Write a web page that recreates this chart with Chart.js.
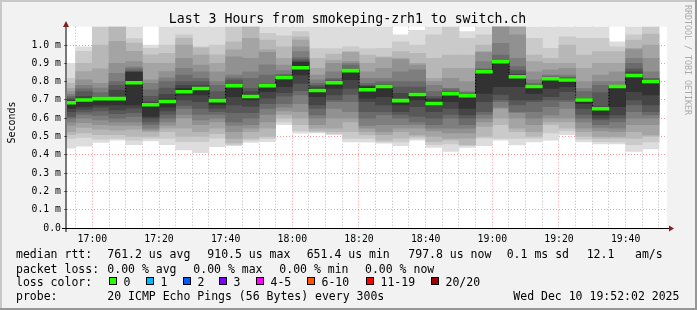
<!DOCTYPE html>
<html>
<head>
<meta charset="utf-8">
<script src="https://cdn.jsdelivr.net/npm/chart.js@4/dist/chart.umd.min.js"></script>
<style>
  html, body { margin: 0; padding: 0; background: #f2f2f2; }
  canvas { display: block; }
</style>
</head>
<body>
<canvas id="chart" width="697" height="310"></canvas>
<script>
const title = 'Last 3 Hours from smokeping-zrh1 to switch.ch';

// start of each 5 minute step
const barStarts = [
  '16:50', '16:55', '17:00', '17:05', '17:10', '17:15', '17:20', '17:25', '17:30',
  '17:35', '17:40', '17:45', '17:50', '17:55', '18:00', '18:05', '18:10', '18:15',
  '18:20', '18:25', '18:30', '18:35', '18:40', '18:45', '18:50', '18:55', '19:00',
  '19:05', '19:10', '19:15', '19:20', '19:25', '19:30', '19:35', '19:40', '19:45'
];

// 20 sorted ping times per step, in ms
const pings = [
  [0.436, 0.49, 0.51, 0.527, 0.56, 0.58, 0.60, 0.61, 0.636, 0.654, 0.695, 0.70, 0.71, 0.72, 0.73, 0.745, 0.763, 0.79, 0.818, 0.90],
  [0.447, 0.495, 0.52, 0.55, 0.575, 0.60, 0.62, 0.635, 0.65, 0.665, 0.70, 0.72, 0.745, 0.76, 0.78, 0.81, 0.855, 0.90, 0.965, 0.99],
  [0.467, 0.485, 0.51, 0.54, 0.565, 0.59, 0.615, 0.64, 0.66, 0.672, 0.705, 0.71, 0.72, 0.74, 0.765, 0.79, 0.87, 1.0, 1.2, 1.3],
  [0.48, 0.49, 0.51, 0.535, 0.56, 0.58, 0.60, 0.625, 0.645, 0.672, 0.705, 0.754, 0.78, 0.80, 0.845, 0.90, 1.02, 1.15, 1.2, 1.25],
  [0.455, 0.48, 0.50, 0.54, 0.56, 0.58, 0.61, 0.63, 0.655, 0.672, 0.85, 0.853, 0.857, 0.87, 0.88, 0.91, 0.965, 1.01, 1.035, 1.2],
  [0.476, 0.49, 0.50, 0.527, 0.535, 0.545, 0.565, 0.58, 0.60, 0.61, 0.675, 0.69, 0.72, 0.755, 0.79, 0.81, 0.90, 0.946, 0.982, 1.0],
  [0.455, 0.49, 0.527, 0.545, 0.56, 0.58, 0.60, 0.62, 0.64, 0.66, 0.705, 0.73, 0.765, 0.80, 0.82, 0.855, 0.90, 0.955, 1.0, 1.15],
  [0.427, 0.472, 0.50, 0.545, 0.60, 0.62, 0.654, 0.67, 0.70, 0.727, 0.763, 0.78, 0.80, 0.836, 0.873, 0.927, 1.0, 1.036, 1.055, 1.15],
  [0.412, 0.472, 0.50, 0.527, 0.564, 0.59, 0.62, 0.654, 0.69, 0.727, 0.763, 0.78, 0.80, 0.818, 0.854, 0.89, 0.945, 0.985, 0.99, 1.15],
  [0.445, 0.491, 0.515, 0.545, 0.58, 0.60, 0.62, 0.636, 0.654, 0.672, 0.70, 0.709, 0.745, 0.78, 0.80, 0.854, 0.90, 0.946, 1.0, 1.15],
  [0.45, 0.455, 0.465, 0.49, 0.527, 0.56, 0.58, 0.63, 0.672, 0.718, 0.782, 0.79, 0.81, 0.82, 0.836, 0.936, 0.973, 1.018, 1.2, 1.3],
  [0.467, 0.48, 0.49, 0.527, 0.545, 0.565, 0.60, 0.63, 0.665, 0.70, 0.727, 0.745, 0.763, 0.818, 0.854, 0.927, 1.036, 1.15, 1.2, 1.3],
  [0.472, 0.49, 0.50, 0.545, 0.58, 0.62, 0.654, 0.68, 0.709, 0.745, 0.782, 0.786, 0.79, 0.836, 0.891, 0.96, 0.973, 1.027, 1.064, 1.2],
  [0.564, 0.58, 0.60, 0.62, 0.64, 0.66, 0.68, 0.72, 0.74, 0.772, 0.825, 0.83, 0.836, 0.84, 0.86, 0.89, 0.927, 0.99, 1.05, 1.2],
  [0.518, 0.53, 0.564, 0.60, 0.636, 0.68, 0.727, 0.75, 0.79, 0.836, 0.905, 0.91, 0.92, 0.93, 0.964, 0.99, 1.027, 1.045, 1.073, 1.2],
  [0.52, 0.525, 0.53, 0.545, 0.564, 0.60, 0.618, 0.654, 0.672, 0.718, 0.763, 0.77, 0.78, 0.79, 0.81, 0.836, 0.873, 0.927, 0.98, 1.15],
  [0.51, 0.515, 0.527, 0.545, 0.60, 0.654, 0.69, 0.70, 0.727, 0.763, 0.798, 0.80, 0.81, 0.818, 0.854, 0.90, 0.918, 0.95, 0.98, 1.15],
  [0.47, 0.49, 0.527, 0.58, 0.60, 0.636, 0.69, 0.73, 0.763, 0.81, 0.862, 0.866, 0.87, 0.89, 0.90, 0.909, 0.96, 0.964, 0.99, 1.2],
  [0.469, 0.49, 0.509, 0.527, 0.545, 0.56, 0.60, 0.636, 0.69, 0.709, 0.772, 0.776, 0.78, 0.79, 0.818, 0.854, 0.90, 0.945, 0.98, 1.2],
  [0.463, 0.47, 0.48, 0.51, 0.527, 0.564, 0.618, 0.636, 0.672, 0.718, 0.78, 0.783, 0.785, 0.80, 0.818, 0.873, 0.93, 0.936, 0.982, 1.2],
  [0.45, 0.47, 0.491, 0.527, 0.545, 0.564, 0.60, 0.62, 0.636, 0.672, 0.70, 0.736, 0.77, 0.80, 0.854, 0.92, 0.927, 0.964, 1.018, 1.055],
  [0.48, 0.49, 0.50, 0.509, 0.545, 0.564, 0.58, 0.61, 0.663, 0.70, 0.736, 0.74, 0.77, 0.80, 0.864, 0.89, 0.90, 0.955, 1.0, 1.08],
  [0.44, 0.455, 0.472, 0.50, 0.53, 0.545, 0.564, 0.60, 0.636, 0.672, 0.70, 0.709, 0.72, 0.745, 0.78, 0.80, 0.818, 0.927, 1.055, 1.2],
  [0.418, 0.46, 0.48, 0.49, 0.52, 0.545, 0.60, 0.62, 0.654, 0.691, 0.74, 0.742, 0.745, 0.76, 0.763, 0.818, 0.873, 0.945, 1.15, 1.2],
  [0.44, 0.45, 0.455, 0.491, 0.52, 0.545, 0.564, 0.60, 0.618, 0.654, 0.725, 0.727, 0.73, 0.74, 0.745, 0.80, 0.873, 0.945, 1.036, 1.073],
  [0.45, 0.491, 0.50, 0.555, 0.58, 0.60, 0.62, 0.636, 0.69, 0.736, 0.856, 0.86, 0.864, 0.87, 0.909, 0.96, 0.964, 1.0, 1.055, 1.2],
  [0.48, 0.49, 0.564, 0.60, 0.654, 0.66, 0.69, 0.70, 0.73, 0.772, 0.909, 0.91, 0.912, 0.945, 1.009, 1.15, 1.2, 1.25, 1.3, 1.4],
  [0.454, 0.49, 0.527, 0.545, 0.60, 0.63, 0.636, 0.672, 0.70, 0.772, 0.836, 0.84, 0.86, 0.882, 0.927, 1.055, 1.15, 1.2, 1.3, 1.4],
  [0.47, 0.49, 0.50, 0.527, 0.564, 0.60, 0.636, 0.691, 0.70, 0.736, 0.78, 0.781, 0.782, 0.79, 0.81, 0.854, 0.909, 0.945, 1.036, 1.15],
  [0.48, 0.52, 0.564, 0.58, 0.60, 0.618, 0.663, 0.70, 0.718, 0.763, 0.818, 0.82, 0.822, 0.83, 0.836, 0.864, 0.90, 0.927, 0.982, 1.2],
  [0.51, 0.53, 0.545, 0.58, 0.60, 0.654, 0.691, 0.70, 0.745, 0.772, 0.815, 0.817, 0.82, 0.825, 0.836, 0.873, 0.90, 1.0, 1.045, 1.2],
  [0.47, 0.485, 0.50, 0.527, 0.545, 0.58, 0.60, 0.62, 0.654, 0.68, 0.705, 0.707, 0.709, 0.745, 0.763, 0.80, 0.873, 0.945, 1.036, 1.15],
  [0.46, 0.472, 0.49, 0.50, 0.53, 0.55, 0.564, 0.59, 0.60, 0.618, 0.655, 0.663, 0.74, 0.78, 0.80, 0.836, 0.90, 0.964, 1.036, 1.15],
  [0.46, 0.47, 0.491, 0.50, 0.527, 0.545, 0.58, 0.60, 0.618, 0.663, 0.772, 0.773, 0.775, 0.78, 0.80, 0.854, 0.90, 0.964, 0.99, 1.018],
  [0.418, 0.455, 0.49, 0.527, 0.564, 0.60, 0.636, 0.672, 0.70, 0.745, 0.836, 0.854, 0.87, 0.90, 0.927, 0.975, 0.982, 1.027, 1.055, 1.2],
  [0.432, 0.47, 0.50, 0.509, 0.564, 0.60, 0.618, 0.636, 0.672, 0.727, 0.805, 0.81, 0.815, 0.818, 0.854, 0.927, 1.0, 1.06, 1.2, 1.25]
];

// median rtt per step, in ms
const medians = [
  0.685, 0.700, 0.707, 0.707, 0.794, 0.674, 0.691, 0.745, 0.762, 0.696, 0.778, 0.718,
  0.778, 0.822, 0.876, 0.751, 0.794, 0.860, 0.756, 0.773, 0.696, 0.729, 0.680, 0.734,
  0.723, 0.854, 0.909, 0.827, 0.773, 0.816, 0.809, 0.700, 0.652, 0.773, 0.833, 0.800
];

const xTickLabels = ['17:00', '17:20', '17:40', '18:00', '18:20', '18:40', '19:00', '19:20', '19:40'];
const graphStart = '16:52:24';
const graphEnd = '19:52:24';

const rttStats = ['761.2 us avg', '910.5 us max', '651.4 us min', '797.8 us now', '0.1 ms sd', '12.1', 'am/s'];
const lossStats = ['0.00 % avg', '0.00 % max', '0.00 % min', '0.00 % now'];
const lossLabels = ['0', '1', '2', '3', '4-5', '6-10', '11-19', '20/20'];
const lossColors = ['#26ff00', '#00b8ff', '#0059ff', '#7e00ff', '#ff00ff', '#ff5500', '#ff0000', '#a10000'];
const probeText = '20 ICMP Echo Pings (56 Bytes) every 300s';
const stampText = 'Wed Dec 10 19:52:02 2025';

function toMin(t) {
  const p = t.split(':').map(Number);
  return p[0] * 60 + p[1] + (p[2] || 0) / 60;
}

const centers = barStarts.map(t => toMin(t) + 2.5);
const tickMap = {};
xTickLabels.forEach(l => { tickMap[toMin(l)] = l; });
const gridMinutes = [];
for (let m = toMin('16:55'); m <= toMin('19:50'); m += 5) gridMinutes.push(m);

// smokeping grey levels, outer pair lightest
const shades = ['#dddddd', '#cacaca', '#b7b7b7', '#a4a4a4', '#919191',
                '#7e7e7e', '#6b6b6b', '#585858', '#454545', '#323232'];

const smoke = shades.map((c, k) => ({
  type: 'bar',
  data: pings.map((p, i) => ({ x: centers[i], y: [p[k], p[19 - k]] })),
  backgroundColor: c,
  grouped: false,
  barPercentage: 1,
  categoryPercentage: 1,
  order: 20 - k
}));

const steps = {
  type: 'line',
  data: medians.map((m, i) => ({ x: centers[i], y: m })),
  borderColor: '#000',
  borderWidth: 1,
  borderDash: [1, 2],
  stepped: 'middle',
  pointRadius: 0,
  order: 2
};

const medianBars = {
  type: 'bar',
  data: medians.map((m, i) => ({ x: centers[i], y: [m - 0.0078, m + 0.0078] })),
  backgroundColor: lossColors[0],
  grouped: false,
  barPercentage: 1,
  categoryPercentage: 1,
  order: 1
};

const MONO = '"DejaVu Sans Mono", monospace';

const decor = {
  id: 'decor',
  beforeDraw(chart) {
    const { ctx, chartArea: a } = chart;
    ctx.save();
    ctx.fillStyle = '#f2f2f2';
    ctx.fillRect(0, 0, 697, 310);
    ctx.fillStyle = '#c8c8c8';
    ctx.fillRect(0, 0, 697, 2);
    ctx.fillRect(0, 0, 2, 310);
    ctx.fillStyle = '#969696';
    ctx.fillRect(0, 308, 697, 2);
    ctx.fillRect(695, 0, 2, 310);
    ctx.fillStyle = '#ffffff';
    ctx.fillRect(a.left, a.top, a.right - a.left, a.bottom - a.top);
    ctx.restore();
  },
  afterDraw(chart) {
    const { ctx, chartArea: a } = chart;
    ctx.save();
    // axes
    ctx.strokeStyle = '#000';
    ctx.lineWidth = 1;
    ctx.beginPath();
    ctx.moveTo(62, a.bottom + 0.5);
    ctx.lineTo(670, a.bottom + 0.5);
    ctx.moveTo(a.left - 1, a.bottom + 4);
    ctx.lineTo(a.left - 1, 24);
    ctx.stroke();
    ctx.fillStyle = '#7f1f1f';
    ctx.beginPath();
    ctx.moveTo(a.left - 1, 21);
    ctx.lineTo(a.left - 4, 27);
    ctx.lineTo(a.left + 2, 27);
    ctx.closePath();
    ctx.fill();
    ctx.beginPath();
    ctx.moveTo(674, a.bottom + 0.5);
    ctx.lineTo(669, a.bottom - 2.5);
    ctx.lineTo(669, a.bottom + 3.5);
    ctx.closePath();
    ctx.fill();

    // title
    ctx.fillStyle = '#000';
    ctx.font = '13.2px ' + MONO;
    ctx.textAlign = 'center';
    ctx.textBaseline = 'alphabetic';
    ctx.fillText(title, 347.5, 23);

    // vertical labels
    ctx.save();
    ctx.translate(14.5, 122.5);
    ctx.rotate(-Math.PI / 2);
    ctx.font = '10px ' + MONO;
    ctx.fillText('Seconds', 0, 0);
    ctx.restore();
    ctx.save();
    ctx.translate(685, 60);
    ctx.rotate(Math.PI / 2);
    ctx.font = '8.3px ' + MONO;
    ctx.fillStyle = '#aaaaaa';
    ctx.fillText('RRDTOOL / TOBI OETIKER', 0, 0);
    ctx.restore();

    // legend
    ctx.textAlign = 'left';
    ctx.font = '11.5px ' + MONO;
    ctx.fillStyle = '#000';
    const rttX = [107.3, 207.3, 306.7, 408.3, 506.7, 586.7, 635];
    ctx.fillText('median rtt:', 16, 258.3);
    rttStats.forEach((s, i) => ctx.fillText(s, rttX[i], 258.3));
    const lossX = [107.3, 193.3, 279.3, 365];
    ctx.fillText('packet loss:', 16, 272.5);
    lossStats.forEach((s, i) => ctx.fillText(s, lossX[i], 272.5));
    ctx.fillText('loss color:', 16, 286);
    const boxX = [109, 146, 183, 219, 256, 307, 366, 431];
    lossLabels.forEach((l, i) => {
      ctx.fillStyle = lossColors[i];
      ctx.fillRect(boxX[i], 277, 8, 8);
      ctx.strokeStyle = '#000';
      ctx.strokeRect(boxX[i] + 0.5, 277.5, 7, 7);
      ctx.fillStyle = '#000';
      ctx.fillText(l, boxX[i] + 14.5, 286);
    });
    ctx.fillText('probe:', 16, 300);
    ctx.fillText(probeText, 107.3, 300);
    ctx.fillText(stampText, 513.3, 300);
    ctx.restore();
  }
};

new Chart(document.getElementById('chart'), {
  type: 'bar',
  data: { datasets: [...smoke, steps, medianBars] },
  options: {
    responsive: false,
    animation: false,
    events: [],
    devicePixelRatio: 1,
    layout: { padding: { left: 27, right: 30, top: 26.7, bottom: 62 } },
    plugins: { legend: { display: false }, tooltip: { enabled: false }, title: { display: false } },
    scales: {
      x: {
        type: 'linear',
        min: toMin(graphStart),
        max: toMin(graphEnd),
        offset: false,
        z: 1,
        afterBuildTicks: s => { s.ticks = gridMinutes.map(v => ({ value: v })); },
        afterFit: s => { s.height = 20; },
        border: { display: false, dash: [1, 2] },
        grid: {
          offset: false,
          drawTicks: false,
          color: c => (c.tick && c.tick.value % 20 === 0) ? 'rgba(255,0,0,0.4)' : 'rgba(120,120,120,0.5)'
        },
        ticks: {
          autoSkip: false,
          maxRotation: 0,
          padding: 6,
          color: '#000',
          font: { family: MONO, size: 9.8 },
          callback: v => tickMap[v] || ''
        }
      },
      y: {
        type: 'linear',
        min: 0,
        max: 1.1,
        z: 1,
        afterFit: s => { s.width = 40; },
        border: { display: false, dash: [1, 2] },
        grid: {
          drawTicks: true,
          tickLength: 3,
          tickColor: '#777',
          tickBorderDash: [],
          color: c => (c.tick && c.tick.value > 1.05) ? 'rgba(0,0,0,0)' : 'rgba(255,0,0,0.4)'
        },
        ticks: {
          stepSize: 0.1,
          padding: 3,
          color: '#000',
          font: { family: MONO, size: 9.8 },
          callback: v => v > 1.05 ? '' : (v === 0 ? '0.0' : v.toFixed(1) + ' m')
        }
      }
    }
  },
  plugins: [decor]
});
</script>
</body>
</html>
